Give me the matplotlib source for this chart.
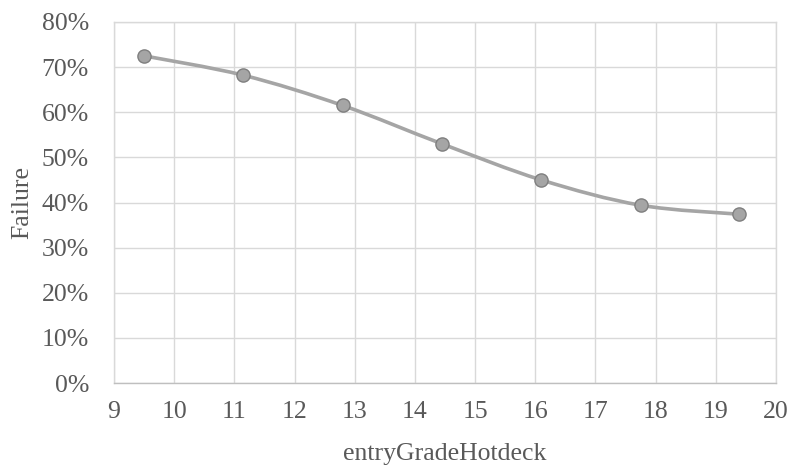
import numpy as np
import matplotlib
matplotlib.use('Agg')
import matplotlib.pyplot as plt
import matplotlib.path as mpath
import matplotlib.patches as mpatches
from matplotlib.ticker import FuncFormatter

# entry grade (hotdeck imputed) vs failure rate
entry_grade = [9.50, 11.15, 12.80, 14.45, 16.10, 17.75, 19.39]
failure_pct = [72.5, 68.2, 61.5, 53.0, 45.0, 39.4, 37.4]

x_ticks = list(range(9, 21))
y_ticks = list(range(0, 81, 10))

plt.rcParams['font.family'] = ['Liberation Serif', 'DejaVu Serif']
text_col = '#595959'
grid_col = '#d9d9d9'
line_col = '#a5a5a5'

fig = plt.figure(figsize=(7.92, 4.68), dpi=100)
ax = fig.add_axes([0.1439, 0.1816, 0.8359, 0.7714])

# smoothed line (bezier through the points, like a spreadsheet "smooth line")
pts = np.column_stack([entry_grade, failure_pct])
verts = [pts[0]]
codes = [mpath.Path.MOVETO]
for i in range(len(pts) - 1):
    p0 = pts[i - 1] if i > 0 else pts[i]
    p1 = pts[i]
    p2 = pts[i + 1]
    p3 = pts[i + 2] if i + 2 < len(pts) else pts[i + 1]
    c1 = p1 + (p2 - p0) / 6.0
    c2 = p2 - (p3 - p1) / 6.0
    verts += [c1, c2, p2]
    codes += [mpath.Path.CURVE4] * 3
curve = mpatches.PathPatch(mpath.Path(verts, codes), facecolor='none',
                           edgecolor=line_col, linewidth=2.6, zorder=3,
                           capstyle='round', joinstyle='round')
ax.add_patch(curve)
ax.plot(entry_grade, failure_pct, linestyle='none', marker='o', markersize=9.5,
        markerfacecolor=line_col, markeredgecolor='#7f7f7f',
        markeredgewidth=1.0, zorder=4)

ax.set_xlim(9, 20)
ax.set_ylim(0, 80)
ax.set_xticks(x_ticks)
ax.set_yticks(y_ticks)
ax.yaxis.set_major_formatter(FuncFormatter(lambda v, p: f"{v:.0f}%"))
ax.grid(True, color=grid_col, linewidth=1.0, zorder=0)
ax.set_axisbelow(True)
for s in ax.spines.values():
    s.set_color(grid_col)
    s.set_linewidth(1.0)
ax.spines['bottom'].set_color('#bfbfbf')
ax.tick_params(axis='both', length=0, labelsize=18.5, labelcolor=text_col)
ax.tick_params(axis='x', pad=13)
ax.tick_params(axis='y', pad=18)

ax.set_xlabel("entryGradeHotdeck", fontsize=18.5, color=text_col, labelpad=14)
ax.set_ylabel("Failure", fontsize=18.5, color=text_col, labelpad=6)

plt.savefig("out.png", dpi=100)
plt.close()
